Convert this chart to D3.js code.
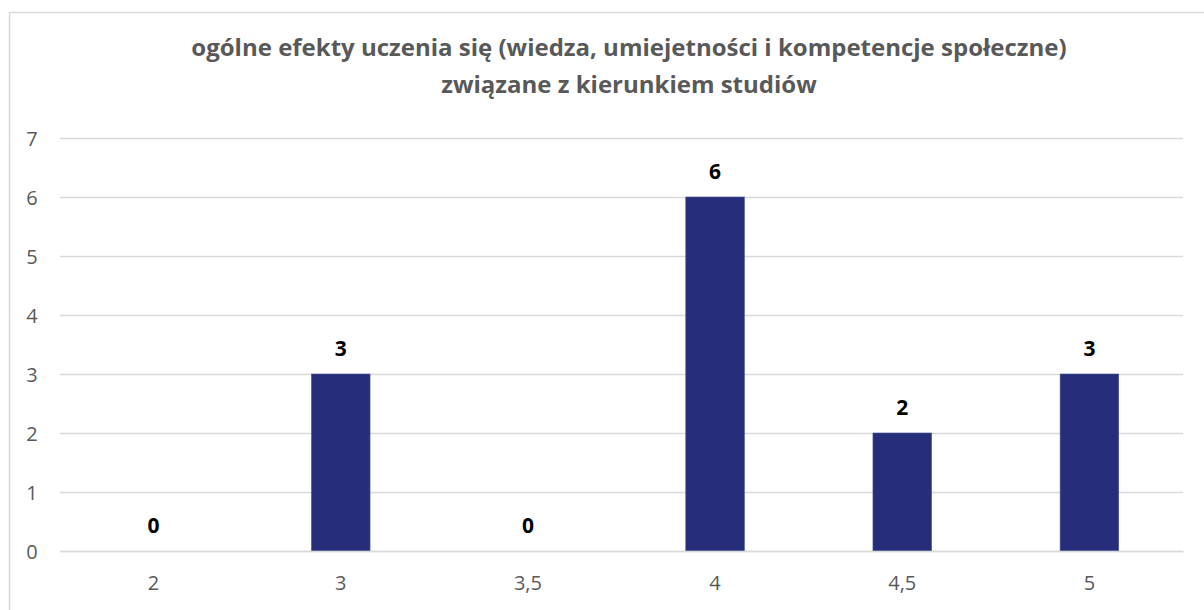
<!DOCTYPE html>
<html lang="pl">
<head>
  <meta charset="UTF-8">
  <title>ogólne efekty uczenia się</title>
  <script src="https://d3js.org/d3.v7.min.js"></script>
  <style>
    body { margin: 0; padding: 0; background: #fff; }
    svg text { font-family: 'Open Sans', 'Liberation Sans', sans-serif; }
  </style>
</head>
<body>
  <div id="chart"></div>
  <script>
    // dane
    const categories = ['2', '3', '3,5', '4', '4,5', '5'];
    const counts = [0, 3, 0, 6, 2, 3];
    const yTicks = [0, 1, 2, 3, 4, 5, 6, 7];
    const titleLines = [
      'ogólne efekty uczenia się (wiedza, umiejetności i kompetencje społeczne)',
      'związane z kierunkiem studiów'
    ];

    const width = 1204, height = 610;
    const plot = { left: 60, right: 1183, top: 138, bottom: 551 };

    const svg = d3.select('#chart')
      .append('svg')
      .attr('width', width)
      .attr('height', height);

    // ramka wykresu
    svg.append('rect')
      .attr('x', 9.5).attr('y', 12.5)
      .attr('width', 1230).attr('height', 640)
      .attr('fill', 'none')
      .attr('stroke', '#d9d9d9')
      .attr('stroke-width', 1.5);

    // tytuł
    svg.selectAll('text.title')
      .data(titleLines)
      .enter()
      .append('text')
      .attr('class', 'title')
      .attr('x', 629)
      .attr('y', (d, i) => 56 + i * 37)
      .attr('text-anchor', 'middle')
      .attr('font-size', 24)
      .attr('font-weight', 'bold')
      .attr('fill', '#595959')
      .text(d => d);

    const x = d3.scaleBand()
      .domain(categories)
      .range([plot.left, plot.right])
      .paddingInner(0.687)
      .paddingOuter(0.3435);

    const y = d3.scaleLinear()
      .domain([0, 7])
      .range([plot.bottom, plot.top]);

    // linie siatki
    const yAxis = d3.axisLeft(y)
      .tickValues(yTicks)
      .tickSize(-(plot.right - plot.left))
      .tickFormat(d3.format('d'));

    const gy = svg.append('g')
      .attr('transform', `translate(${plot.left},0)`)
      .call(yAxis);
    gy.select('.domain').remove();
    gy.selectAll('line').attr('stroke', '#d9d9d9').attr('stroke-width', 1.5);
    gy.selectAll('text')
      .attr('fill', '#595959')
      .attr('font-size', 20)
      .attr('text-anchor', 'middle')
      .attr('x', -28)
      .attr('dy', '0.35em');

    // słupki
    svg.selectAll('rect.bar')
      .data(counts)
      .enter()
      .append('rect')
      .attr('class', 'bar')
      .attr('x', (d, i) => x(categories[i]))
      .attr('y', d => y(d))
      .attr('width', x.bandwidth())
      .attr('height', d => y(0) - y(d))
      .attr('fill', '#262e7c')
      .attr('stroke', '#4a5294')
      .attr('stroke-width', 0.6);

    // oś X
    const xAxis = d3.axisBottom(x).tickSize(0).tickPadding(24);
    const gx = svg.append('g')
      .attr('transform', `translate(0,${plot.bottom})`)
      .call(xAxis);
    gx.select('.domain').attr('stroke', '#d9d9d9').attr('stroke-width', 1.5);
    gx.selectAll('text')
      .attr('fill', '#595959')
      .attr('font-size', 20)
      .attr('dy', 0)
      .attr('y', 39);

    // etykiety danych
    svg.selectAll('text.label')
      .data(counts)
      .enter()
      .append('text')
      .attr('class', 'label')
      .attr('x', (d, i) => x(categories[i]) + x.bandwidth() / 2)
      .attr('y', d => y(d) - 18)
      .attr('text-anchor', 'middle')
      .attr('font-size', 21)
      .attr('font-weight', 'bold')
      .attr('fill', '#000')
      .text(d => d);
  </script>
</body>
</html>
